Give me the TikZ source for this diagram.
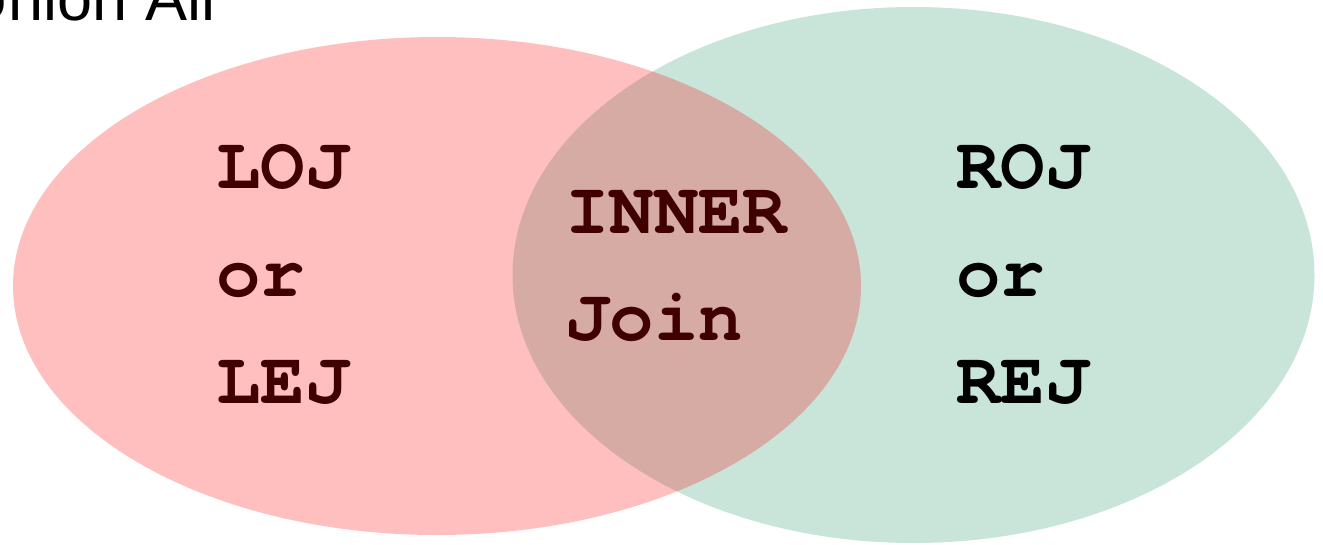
\documentclass[tikz,border=0pt]{standalone}
\usepackage{fontspec}
\setmainfont{Liberation Sans}
\newfontfamily\codefont{texgyrecursor}[Extension=.otf, UprightFont=*-regular, BoldFont=*-bold]
\definecolor{venngreen}{HTML}{C9E5DA}
\definecolor{vennred}{HTML}{FF0000}
\definecolor{darktext}{HTML}{400000}
\tikzset{
  code/.style={inner sep=0pt, anchor=base west, font=\codefont\bfseries\fontsize{74}{80}\selectfont},
  lefttext/.style={code, text=darktext},
  righttext/.style={code, text=black},
}
\begin{document}
\begin{tikzpicture}[x=1pt,y=-1pt]
\useasboundingbox (0,0) rectangle (1323,544);
\fill[venngreen] (913.5,275) ellipse [x radius=401, y radius=268];
\fill[vennred, fill opacity=0.25] (437,286) ellipse [x radius=424, y radius=249];
\node[inner sep=0pt, anchor=base west, font=\fontsize{63}{70}\selectfont] (title) at (-37,20) {Union All};
\node[lefttext] (loj) at (216,188) {LOJ};
\node[lefttext] (lor) at (216,296) {or};
\node[lefttext] (lej) at (216,403) {LEJ};
\node[lefttext] (inner) at (565,233) {INNER};
\node[lefttext] (join) at (565,340) {Join};
\node[righttext] (roj) at (956,188) {ROJ};
\node[righttext] (ror) at (956,296) {or};
\node[righttext] (rej) at (956,403) {REJ};
\end{tikzpicture}
\end{document}
